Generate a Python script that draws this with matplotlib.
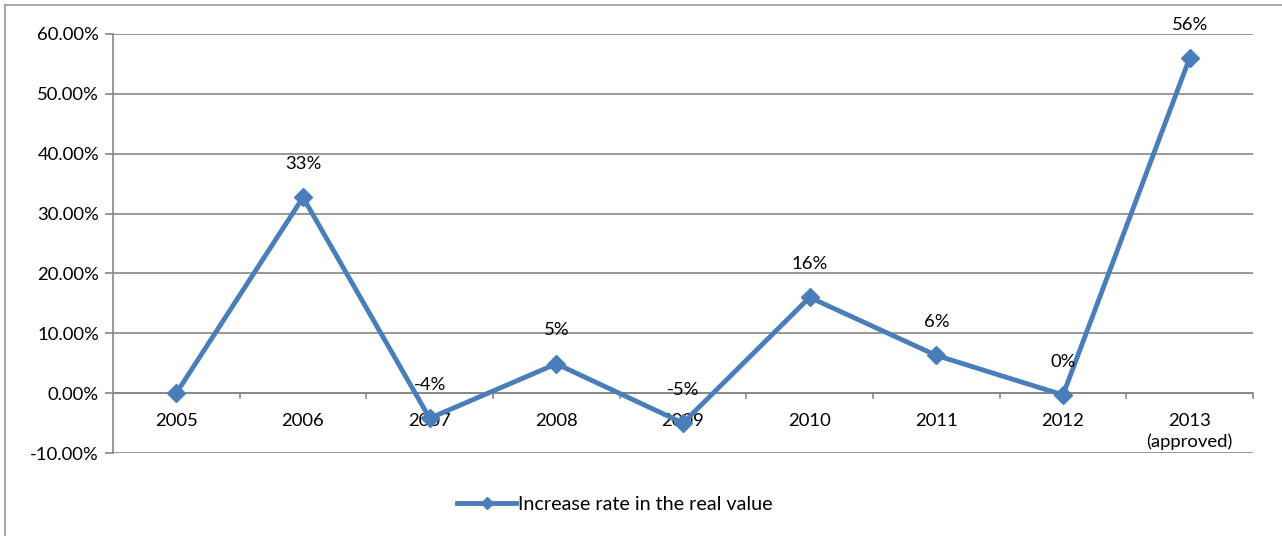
import matplotlib
matplotlib.use("Agg")
import matplotlib.pyplot as plt
from matplotlib.lines import Line2D

categories = ["2005", "2006", "2007", "2008", "2009", "2010", "2011", "2012", "2013\n(approved)"]
values = [0.0, 32.7, -4.2, 4.9, -5.0, 16.0, 6.3, -0.3, 56.0]
value_labels = ["", "33%", "-4%", "5%", "-5%", "16%", "6%", "0%", "56%"]
series_name = "Increase rate in the real value"
y_ticks = [-10, 0, 10, 20, 30, 40, 50, 60]

plt.rcParams['font.family'] = ['Lato', 'DejaVu Sans']
LINE = "#4A7EBB"
GRID = "#868686"
FS = 13.3

fig = plt.figure(figsize=(12.82, 5.36), dpi=100)
ax = fig.add_axes([113/1282, 1-453/536, 1140/1282, (453-34)/536])

x = list(range(len(categories)))
ax.plot(x, values, color=LINE, lw=3.5, marker="D", ms=9, mfc=LINE, mec=LINE, zorder=4,
        solid_joinstyle="miter")

for xi, v, lab in zip(x, values, value_labels):
    if lab:
        ax.annotate(lab, (xi, v), xytext=(0, 24), textcoords="offset points",
                    ha="center", va="center", fontsize=FS, color="black", zorder=5)

ax.set_xlim(-0.5, len(categories) - 0.5)
ax.set_ylim(-10, 60)
ax.set_yticks(y_ticks)
ax.set_yticklabels([f"{t:.2f}%" for t in y_ticks], fontsize=FS)
ax.grid(axis="y", color=GRID, lw=1.2, zorder=0)
ax.set_axisbelow(True)
for s in ["top", "right", "bottom"]:
    ax.spines[s].set_visible(False)
ax.spines["left"].set_color(GRID)
ax.spines["left"].set_linewidth(1.2)
ax.tick_params(axis="y", length=6, color=GRID, width=1.2, pad=4)

# category axis at zero
ax.axhline(0, color=GRID, lw=1.2, zorder=1)
ax.set_xticks([])
for b in range(1, len(categories) + 1):
    ax.plot([b - 0.5, b - 0.5], [0, -0.75], color=GRID, lw=1.2, zorder=1, clip_on=False)
for xi, c in zip(x, categories):
    ax.annotate(c, (xi, 0), xytext=(0, -14), textcoords="offset points",
                ha="center", va="top", fontsize=FS, linespacing=1.35, zorder=3)

# legend
leg_handle = Line2D([], [], color=LINE, lw=3.5, marker="D", ms=6, mfc=LINE, mec=LINE)
fig.legend([leg_handle], [series_name], loc="center", bbox_to_anchor=(615/1282, 1-504/536),
           frameon=False, fontsize=14.2, handlelength=3.0, handletextpad=0.1)

# chart border (left & top)
fig.add_artist(Line2D([5/1282, 5/1282], [0, 1-5/536], transform=fig.transFigure, color="#999999", lw=1.2))
fig.add_artist(Line2D([5/1282, 1], [1-5/536, 1-5/536], transform=fig.transFigure, color="#999999", lw=1.2))

fig.savefig("out.png", dpi=100, facecolor="white")
